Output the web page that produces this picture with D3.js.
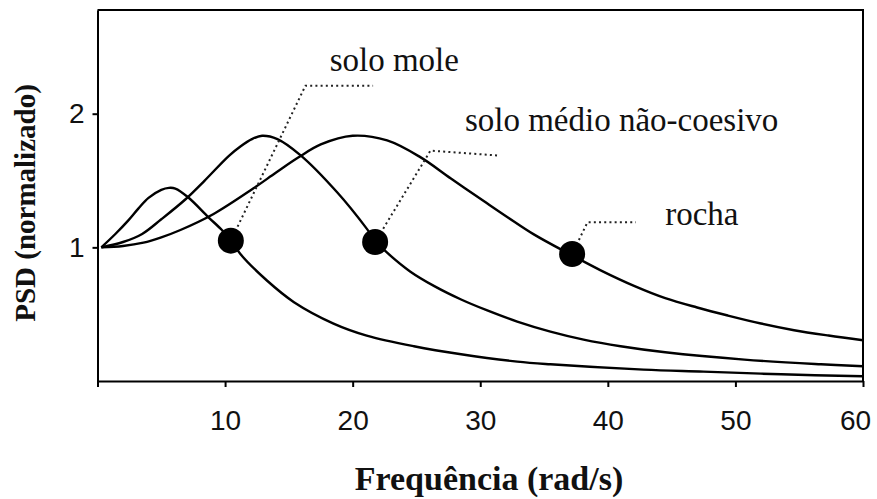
<!DOCTYPE html>
<html>
<head>
<meta charset="utf-8">
<script src="https://cdn.jsdelivr.net/npm/d3@7"></script>
<style>
  html, body { margin: 0; padding: 0; background: #fff; }
  svg { display: block; }
</style>
</head>
<body>
<div id="chart"></div>
<script>
// Normalised power spectral density for three ground types
const freqMole  = [0.3, 1.4, 2.4, 3.2, 4.0, 5.0, 5.6, 6.1, 7.1, 8.7, 9.75, 10.5, 11.2, 13.3, 15.4, 18.5, 21.1, 24.8, 28.5, 32.9, 35.5, 42.8, 47.5, 53.6, 60];
const psdMole   = [1.00, 1.10, 1.20, 1.29, 1.37, 1.43, 1.445, 1.44, 1.375, 1.225, 1.13, 1.05, 0.95, 0.75, 0.59, 0.43, 0.34, 0.26, 0.20, 0.145, 0.125, 0.085, 0.07, 0.05, 0.035];

const freqMedio = [0.3, 2.0, 3.5, 5.0, 6.9, 8.4, 10.3, 11.2, 12.1, 12.9, 14.1, 15.9, 18.8, 21.1, 21.8, 22.7, 24.5, 26.4, 28.5, 30.5, 32.9, 35.5, 38.1, 41.0, 44.5, 50.7, 56.7, 60];
const psdMedio  = [1.00, 1.04, 1.10, 1.21, 1.36, 1.50, 1.685, 1.755, 1.81, 1.835, 1.81, 1.69, 1.41, 1.14, 1.045, 0.96, 0.82, 0.71, 0.61, 0.53, 0.445, 0.37, 0.31, 0.26, 0.215, 0.16, 0.125, 0.11];

const freqRocha = [0.3, 2.0, 3.6, 5.0, 6.5, 9.1, 12.2, 14.0, 15.7, 17.5, 20.0, 22.7, 25.3, 27.7, 30.3, 32.2, 34.2, 37.2, 39.4, 42.1, 44.5, 47.0, 49.4, 52.0, 54.6, 57.3, 60];
const psdRocha  = [1.00, 1.01, 1.035, 1.075, 1.13, 1.25, 1.44, 1.56, 1.67, 1.77, 1.835, 1.80, 1.675, 1.515, 1.345, 1.222, 1.097, 0.94, 0.83, 0.71, 0.62, 0.55, 0.49, 0.43, 0.38, 0.34, 0.305];

// Highlighted points on each curve
const markerFreq = [10.45, 21.76, 37.2];
const markerPsd  = [1.05, 1.04, 0.95];

// Labels and their dotted leaders (data coordinates)
const labelText  = ["solo mole", "solo médio não-coesivo", "rocha"];
const labelFreq  = [18.2, 28.8, 44.5];
const labelPsd   = [2.32, 1.873, 1.164];
const leaderElbowFreq = [16.3, 26.1, 38.4];
const leaderElbowPsd  = [2.21, 1.724, 1.187];
const leaderEndFreq   = [21.6, 31.4, 42.2];
const leaderEndPsd    = [2.21, 1.687, 1.187];

const xTicks = [0, 10, 20, 30, 40, 50, 60];
const yTicks = [1, 2];

const W = 877, H = 499;
const margin = { left: 97.5, right: 14, top: 10, bottom: 118 };

const svg = d3.select("#chart").append("svg")
  .attr("width", W).attr("height", H);
svg.append("rect").attr("width", W).attr("height", H).attr("fill", "#fff");

const x = d3.scaleLinear().domain([0, 60]).range([margin.left, W - margin.right]);
const y = d3.scaleLinear().domain([0, 2.776]).range([H - margin.bottom, margin.top]);

const x0 = x.range()[0], x1 = x.range()[1], y0 = y.range()[0], y1 = y.range()[1];

// frame (top and right)
svg.append("path")
  .attr("d", `M${x0},${y1}H${x1}V${y0}`)
  .attr("fill", "none").attr("stroke", "#000").attr("stroke-width", 2);

// axes
const gx = svg.append("g").attr("transform", `translate(0,${y0})`)
  .call(d3.axisBottom(x).tickValues(xTicks).tickSize(6).tickSizeOuter(0)
    .tickFormat(d => d === 0 ? "" : d));
const gy = svg.append("g").attr("transform", `translate(${x0},0)`)
  .call(d3.axisLeft(y).tickValues(yTicks).tickSize(5).tickSizeOuter(0)
    .tickFormat(d3.format("d")));

[gx, gy].forEach(g => {
  g.select(".domain").attr("stroke", "#000").attr("stroke-width", 2);
  g.selectAll(".tick line").attr("stroke", "#000").attr("stroke-width", 2);
  g.selectAll(".tick text")
    .attr("font-family", "'Liberation Sans', Arial, sans-serif")
    .attr("font-size", 28).attr("fill", "#111");
});
gx.selectAll(".tick text").attr("y", 29)
  .attr("dx", d => d === 60 ? -8 : 0);
gy.selectAll(".tick text").attr("x", -13);

// curves
const line = d3.line().x(d => x(d[0])).y(d => y(d[1])).curve(d3.curveCatmullRom.alpha(0.5));
const series = [
  d3.zip(freqMole, psdMole),
  d3.zip(freqMedio, psdMedio),
  d3.zip(freqRocha, psdRocha)
];
svg.append("g").selectAll("path").data(series).join("path")
  .attr("d", line)
  .attr("fill", "none").attr("stroke", "#000").attr("stroke-width", 2.4)
  .attr("stroke-linejoin", "round");

// dotted leaders
const leaders = markerFreq.map((f, i) => [
  [f, markerPsd[i]],
  [leaderElbowFreq[i], leaderElbowPsd[i]],
  [leaderEndFreq[i], leaderEndPsd[i]]
]);
svg.append("g").selectAll("path").data(leaders).join("path")
  .attr("d", d3.line().x(d => x(d[0])).y(d => y(d[1])))
  .attr("fill", "none").attr("stroke", "#222").attr("stroke-width", 2)
  .attr("stroke-dasharray", "2,3.2");

// markers
svg.append("g").selectAll("circle").data(markerFreq).join("circle")
  .attr("cx", d => x(d)).attr("cy", (d, i) => y(markerPsd[i]))
  .attr("r", 13).attr("fill", "#000");

// curve labels
svg.append("g").selectAll("text").data(labelText).join("text")
  .attr("x", (d, i) => x(labelFreq[i])).attr("y", (d, i) => y(labelPsd[i]))
  .attr("font-family", "'Liberation Serif', 'Times New Roman', serif")
  .attr("font-size", 33).attr("fill", "#111")
  .text(d => d);

// axis titles
svg.append("text")
  .attr("x", 489).attr("y", 490).attr("text-anchor", "middle")
  .attr("font-family", "'Liberation Serif', 'Times New Roman', serif")
  .attr("font-weight", "bold").attr("font-size", 34).attr("fill", "#111")
  .text("Frequência (rad/s)");
svg.append("text")
  .attr("transform", "translate(35,203) rotate(-90)").attr("text-anchor", "middle")
  .attr("font-family", "'Liberation Serif', 'Times New Roman', serif")
  .attr("font-weight", "bold").attr("font-size", 29).attr("fill", "#111")
  .text("PSD (normalizado)");
</script>
</body>
</html>
